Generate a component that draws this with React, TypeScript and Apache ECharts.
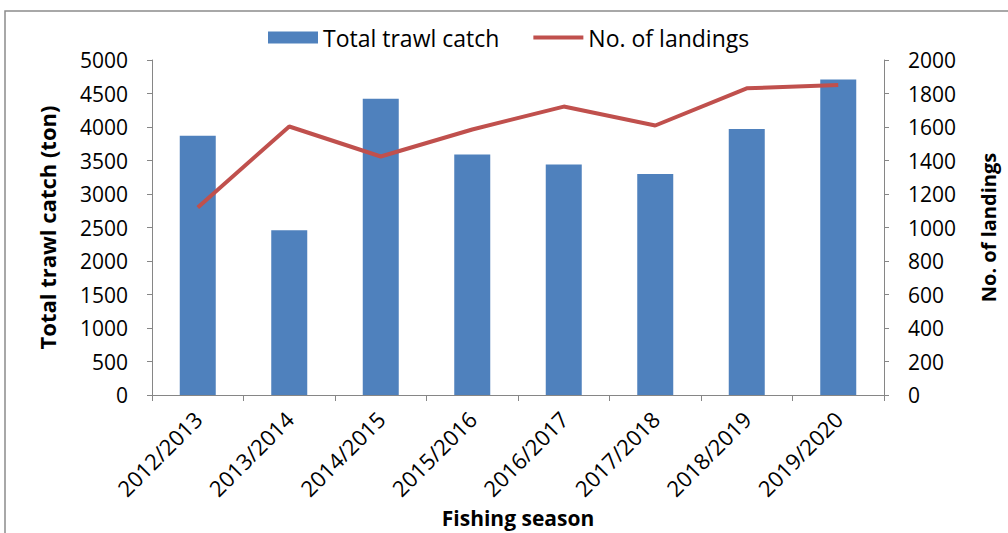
import React, { useEffect, useRef } from "react";
import * as echarts from "echarts";

const seasons = ["2012/2013", "2013/2014", "2014/2015", "2015/2016", "2016/2017", "2017/2018", "2018/2019", "2019/2020"];
const trawlCatch = [3870, 2460, 4420, 3590, 3440, 3300, 3970, 4710];
const landings = [1120, 1603, 1424, 1585, 1722, 1609, 1831, 1851];

const FONT = "'Open Sans', 'Liberation Sans', sans-serif";

export default function App() {
  const ref = useRef<HTMLDivElement>(null);
  useEffect(() => {
    if (!ref.current) return;
    const chart = echarts.init(ref.current, undefined, { renderer: "svg" });
    chart.setOption({
      animation: false,
      backgroundColor: "#ffffff",
      textStyle: { fontFamily: FONT },
      graphic: [
        {
          type: "rect",
          shape: { x: 5, y: 11, width: 1100, height: 600 },
          style: { fill: "none", stroke: "#8c8c8c", lineWidth: 1.5 },
          silent: true,
        },
      ],
      legend: {
        top: 21,
        left: 263,
        itemWidth: 50,
        itemHeight: 12,
        itemGap: 34,
        symbolKeepAspect: true,
        textStyle: { fontFamily: FONT, fontSize: 23, color: "#000", padding: [0, 0, 0, 0] },
        data: [
          { name: "Total trawl catch", icon: "rect" },
          { name: "No. of landings", icon: "path://M0,0 L50,0 L50,4 L0,4 Z" },
        ],
      },
      grid: { left: 152, right: 124, top: 60, bottom: 137, containLabel: false },
      xAxis: {
        type: "category",
        data: seasons,
        boundaryGap: true,
        axisLine: { lineStyle: { color: "#868686", width: 1 } },
        axisTick: { show: true, length: 6, alignWithLabel: false, lineStyle: { color: "#868686" } },
        axisLabel: { rotate: 45, fontSize: 22, color: "#000", margin: 20, fontFamily: FONT, interval: 0 },
        name: "Fishing season",
        nameLocation: "middle",
        nameGap: 112,
        nameTextStyle: { fontSize: 21, fontWeight: "bold", color: "#000", fontFamily: FONT },
      },
      yAxis: [
        {
          type: "value",
          min: 0,
          max: 5000,
          interval: 500,
          splitLine: { show: false },
          axisLine: { show: true, lineStyle: { color: "#868686" } },
          axisTick: { show: true, length: 5, lineStyle: { color: "#868686" } },
          axisLabel: { fontSize: 21, color: "#000", margin: 24, fontFamily: FONT, formatter: (v: number) => String(v) },
          name: "Total trawl catch (ton)",
          nameLocation: "middle",
          nameRotate: 90,
          nameGap: 94,
          nameTextStyle: { fontSize: 22, fontWeight: "bold", color: "#000", fontFamily: FONT },
        },
        {
          type: "value",
          min: 0,
          max: 2000,
          interval: 200,
          position: "right",
          splitLine: { show: false },
          axisLine: { show: true, lineStyle: { color: "#868686" } },
          axisTick: { show: true, length: 5, lineStyle: { color: "#868686" } },
          axisLabel: { fontSize: 21, color: "#000", margin: 24, fontFamily: FONT, formatter: (v: number) => String(v) },
          name: "No. of landings",
          nameLocation: "middle",
          nameRotate: 90,
          nameGap: 94,
          nameTextStyle: { fontSize: 20, fontWeight: "bold", color: "#000", fontFamily: FONT },
        },
      ],
      series: [
        {
          name: "Total trawl catch",
          type: "bar",
          data: trawlCatch,
          barWidth: 36,
          itemStyle: { color: "#4F81BD" },
          yAxisIndex: 0,
        },
        {
          name: "No. of landings",
          type: "line",
          data: landings,
          yAxisIndex: 1,
          symbol: "none",
          showSymbol: false,
          lineStyle: { color: "#C0504D", width: 4 },
          itemStyle: { color: "#C0504D" },
        },
      ],
    });
    return () => chart.dispose();
  }, []);
  return (
    <div
      ref={ref}
      style={{ position: "fixed", left: 0, top: 0, width: 1008, height: 533 }}
    />
  );
}
